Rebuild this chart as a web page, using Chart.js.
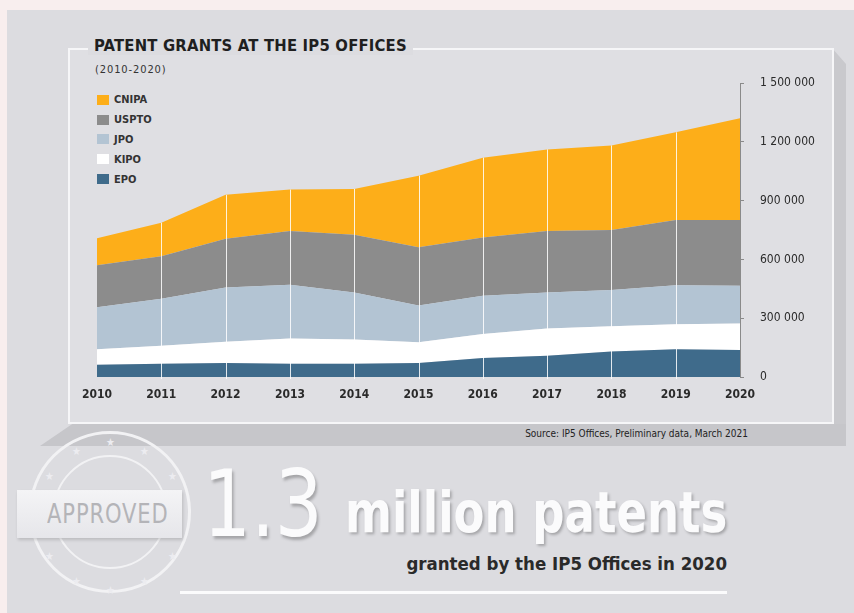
<!DOCTYPE html>
<html>
<head>
<meta charset="utf-8">
<script src="https://cdn.jsdelivr.net/npm/chart.js@4.4.1/dist/chart.umd.min.js"></script>
<style>
  body { margin: 0; width: 854px; height: 613px; overflow: hidden; background: #f8eeee; font-family: "DejaVu Sans Condensed", "Liberation Sans Narrow", sans-serif; position: relative; }
  .panel { position: absolute; left: 7px; top: 10px; width: 847px; height: 603px; background: #dcdce0; }
  .shadow-right { position: absolute; left: 832px; top: 48px; width: 14px; height: 398px; background: #c9c9cd; clip-path: polygon(0 0, 100% 4%, 100% 100%, 0 100%); }
  .source-bar { position: absolute; left: 40px; top: 424px; width: 806px; height: 22px; background: #c6c6ca; clip-path: polygon(0 100%, 4% 0, 100% 0, 100% 100%); }
  .frame { position: absolute; left: 68px; top: 48px; width: 762px; height: 372px; border: 2px solid #f6f6f8; background: #dfdfe3; }
  .title { position: absolute; left: 88px; top: 36px; padding: 0 6px; background: #dcdce0; font-weight: bold; font-size: 16.5px; color: #1f1f1f; letter-spacing: 0.2px; }
  .subtitle { position: absolute; left: 95px; top: 63px; font-size: 11px; letter-spacing: 0.9px; color: #333; }
  .legend { position: absolute; left: 97px; top: 90px; }
  .legend div { height: 19.8px; font-size: 11px; font-weight: bold; color: #333; display: flex; align-items: center; }
  .legend span { display: inline-block; width: 12px; height: 10px; margin-right: 5px; }
  canvas { position: absolute; left: 60px; top: 60px; }
  .source { position: absolute; right: 106px; top: 428px; font-size: 10px; color: #222; }
  .stamp { position: absolute; left: 29px; top: 431px; width: 162px; height: 162px; border-radius: 50%; border: 3px solid #f2f2f4; box-sizing: border-box; }
  .stamp-inner { position: absolute; left: 53px; top: 455px; width: 114px; height: 114px; border-radius: 50%; border: 2px solid #f2f2f4; box-sizing: border-box; }
  .star { position: absolute; color: #ececf0; font-size: 11px; }
  .banner { position: absolute; left: 17px; top: 490px; width: 165px; height: 48px; background: linear-gradient(#f4f4f6, #e6e6ea); box-shadow: 1px 2px 3px rgba(0,0,0,0.15); }
  .banner div { position: absolute; left: 30px; top: 9px; font-size: 26px; color: #b4b4b8; letter-spacing: 1px; transform: scaleX(0.9); transform-origin: left; }
  .big { position: absolute; left: 203px; top: 458px; font-size: 93px; line-height: 1; color: #fbfbfc; text-shadow: 2px 3px 3px rgba(0,0,0,0.25); transform: scaleX(0.9); transform-origin: left; }
  .million { position: absolute; left: 345px; top: 484px; font-size: 57px; font-weight: bold; line-height: 1; color: #fbfbfc; text-shadow: 2px 2px 3px rgba(0,0,0,0.25); white-space: nowrap; transform-origin: left; }
  .granted { position: absolute; right: 127px; top: 553px; font-size: 18.5px; font-weight: bold; color: #2a2a2a; }
  .rule { position: absolute; left: 180px; top: 591px; width: 547px; height: 3px; background: #fbfbfc; }
</style>
</head>
<body>
<div class="panel"></div>
<div class="shadow-right"></div>
<div class="source-bar"></div>
<div class="frame"></div>
<div class="title">PATENT GRANTS AT THE IP5 OFFICES</div>
<div class="subtitle">(2010-2020)</div>
<div class="legend" id="legend"></div>
<canvas id="chart" width="780" height="350"></canvas>
<div class="source">Source: IP5 Offices, Preliminary data, March 2021</div>

<div class="stamp"></div>
<div class="stamp-inner"></div>
<div class="star" style="left:106px;top:436px">★</div>
<div class="star" style="left:72px;top:445px">★</div>
<div class="star" style="left:140px;top:445px">★</div>
<div class="star" style="left:45px;top:470px">★</div>
<div class="star" style="left:168px;top:470px">★</div>
<div class="star" style="left:45px;top:550px">★</div>
<div class="star" style="left:168px;top:550px">★</div>
<div class="star" style="left:72px;top:575px">★</div>
<div class="star" style="left:140px;top:575px">★</div>
<div class="star" style="left:106px;top:584px">★</div>
<div class="banner"><div>APPROVED</div></div>
<div class="big">1.3</div>
<div class="million" id="million">million patents</div>
<div class="granted">granted by the IP5 Offices in 2020</div>
<div class="rule"></div>

<script>
// data (patents granted per office)
const years = ['2010', '2011', '2012', '2013', '2014', '2015', '2016', '2017', '2018', '2019', '2020'];
const epo   = [63000, 68000, 71000, 68000, 68000, 71000, 97000, 108000, 130000, 142000, 138000];
const kipo  = [79000, 91000, 109000, 129000, 124000, 106000, 122000, 140000, 129000, 127000, 135000];
const jpo   = [214000, 240000, 277000, 274000, 240000, 188000, 196000, 184000, 185000, 200000, 193000];
const uspto = [215000, 218000, 249000, 275000, 294000, 297000, 297000, 314000, 307000, 332000, 335000];
const cnipa = [138000, 171000, 224000, 211000, 234000, 366000, 408000, 416000, 431000, 448000, 520000];
const yTicks = [0, 300000, 600000, 900000, 1200000, 1500000];

// bottom to top
const series = [
    { name: 'EPO', data: epo, color: '#3f6b8b' },
    { name: 'KIPO', data: kipo, color: '#ffffff' },
    { name: 'JPO', data: jpo, color: '#b3c4d3' },
    { name: 'USPTO', data: uspto, color: '#8c8c8c' },
    { name: 'CNIPA', data: cnipa, color: '#fdae19' }
];

// legend, top to bottom
const legend = document.getElementById('legend');
series.slice().reverse().forEach(s => {
    const row = document.createElement('div');
    row.innerHTML = '<span style="background:' + s.color + '"></span>' + s.name;
    legend.appendChild(row);
});

// squeeze the headline to the reference width
const million = document.getElementById('million');
million.style.transform = 'scaleX(' + (382 / million.offsetWidth) + ')';

function spaced(v) {
    return String(v).replace(/\B(?=(\d{3})+(?!\d))/g, ' ');
}

// white year lines drawn over the areas
const yearLines = {
    id: 'yearLines',
    afterDatasetsDraw(chart) {
        const ctx = chart.ctx;
        const top = chart.getDatasetMeta(series.length - 1).data;
        const bottom = chart.scales.y.getPixelForValue(0);
        ctx.save();
        ctx.strokeStyle = 'rgba(255,255,255,0.85)';
        ctx.lineWidth = 1;
        for (let i = 1; i < years.length - 1; i++) {
            const x = Math.round(top[i].x) + 0.5;
            ctx.beginPath();
            ctx.moveTo(x, top[i].y);
            ctx.lineTo(x, bottom + 2);
            ctx.stroke();
        }
        ctx.restore();
    }
};

new Chart(document.getElementById('chart'), {
    type: 'line',
    data: {
        labels: years,
        datasets: series.map((s, i) => ({
            label: s.name,
            data: s.data,
            backgroundColor: s.color,
            borderWidth: 0,
            pointRadius: 0,
            tension: 0,
            fill: i === 0 ? 'origin' : '-1'
        }))
    },
    options: {
        responsive: false,
        animation: false,
        layout: { padding: { left: 37, top: 20, right: 0, bottom: 0 } },
        plugins: { legend: { display: false }, tooltip: { enabled: false } },
        scales: {
            x: {
                grid: { display: false },
                border: { display: false },
                ticks: {
                    autoSkip: false,
                    maxRotation: 0,
                    padding: 3,
                    color: '#2a2a2a',
                    font: { family: 'DejaVu Sans Condensed', size: 12, weight: 'bold' }
                },
                afterFit(scale) { scale.height = 33; }
            },
            y: {
                position: 'right',
                stacked: true,
                min: 0,
                max: 1500000,
                afterBuildTicks(scale) { scale.ticks = yTicks.map(v => ({ value: v })); },
                grid: { drawOnChartArea: false, drawTicks: true, tickLength: 4, color: '#8a8a8a' },
                border: { display: true, color: '#8a8a8a', width: 1 },
                ticks: {
                    padding: 16,
                    color: '#2a2a2a',
                    font: { family: 'DejaVu Sans Condensed', size: 12 },
                    callback: v => spaced(v)
                },
                afterFit(scale) { scale.width = 100; }
            }
        }
    },
    plugins: [yearLines]
});
</script>
</body>
</html>
